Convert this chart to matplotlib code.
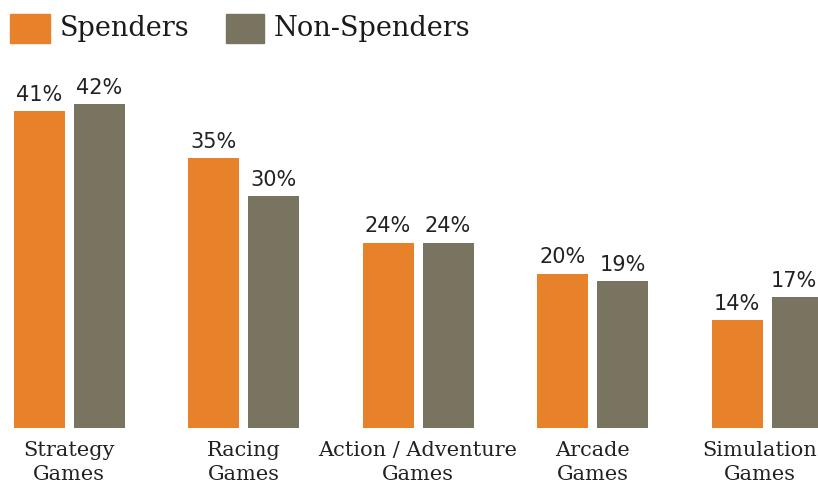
import matplotlib
matplotlib.use("Agg")
import matplotlib.pyplot as plt
from matplotlib.patches import Rectangle
import numpy as np

categories = ["Strategy\nGames", "Racing\nGames", "Action / Adventure\nGames", "Arcade\nGames", "Simulation\nGames"]
spenders = [41, 35, 24, 20, 14]
non_spenders = [42, 30, 24, 19, 17]
series_names = ["Spenders", "Non-Spenders"]

ORANGE = "#E8822A"
GREY = "#79745F"

W, H = 818, 488
fig = plt.figure(figsize=(W / 100, H / 100), dpi=100)
fig.patch.set_facecolor("white")

base_px = 428
px_per_pct = 7.72
ymax = 45
ax = fig.add_axes([0, (H - base_px) / H, 1, ymax * px_per_pct / H])
ax.set_ylim(0, ymax)
step = 174.5
ax.set_xlim(-69 / step, (W - 69) / step)
ax.axis("off")

x = np.arange(len(categories))
bw = 51 / step
off = 30 / step
b1 = ax.bar(x - off, spenders, bw, color=ORANGE)
b2 = ax.bar(x + off, non_spenders, bw, color=GREY)

n = len(categories)
for s, (bars, vals) in enumerate(((b1, spenders), (b2, non_spenders))):
    for i, (r, v) in enumerate(zip(bars, vals)):
        dx = -2.5 if (s == 1 and i == n - 1) else 0
        ax.annotate(f"{v}%", (r.get_x() + r.get_width() / 2, v), xytext=(dx, 4.5),
                    textcoords="offset points", ha="center", va="bottom",
                    fontsize=15, family="DejaVu Sans", color="#222222")

for i, (xi, lab) in enumerate(zip(x, categories)):
    dx = -5 if i == n - 1 else 0
    ax.annotate(lab, (xi, 0), xytext=(dx, -9), textcoords="offset points",
                ha="center", va="top", fontsize=15, family="DejaVu Serif",
                color="#222222", linespacing=1.4, annotation_clip=False)

# legend
fig.patches.append(Rectangle((10 / W, 1 - 43 / H), 40 / W, 29 / H, transform=fig.transFigure,
                             color=ORANGE, figure=fig))
fig.text(60 / W, 1 - 29 / H, series_names[0], fontsize=19.5, family="DejaVu Serif",
         va="center", ha="left", color="#1a1a1a")
fig.patches.append(Rectangle((226 / W, 1 - 43 / H), 38 / W, 29 / H, transform=fig.transFigure,
                             color=GREY, figure=fig))
fig.text(274 / W, 1 - 29 / H, series_names[1], fontsize=19.5, family="DejaVu Serif",
         va="center", ha="left", color="#1a1a1a")

fig.savefig("out.png", dpi=100)
